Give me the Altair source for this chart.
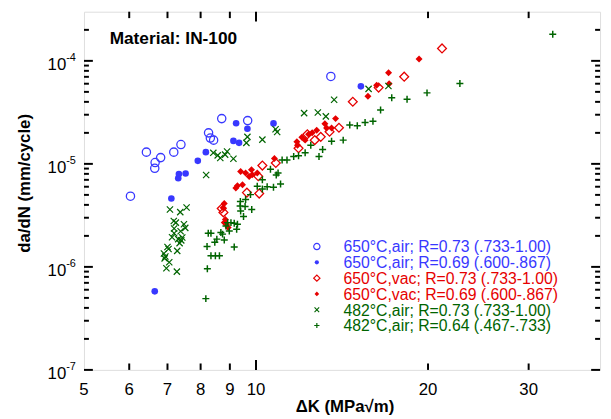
import altair as alt
import pandas as pd

# ---------------- data (ΔK in MPa√m, da/dN in mm/cycle) ----------------
air650_hi_dk = [6.03, 6.43, 6.66, 6.65, 6.81, 7.18, 7.39, 8.26, 8.32, 8.43, 8.71, 9.67, 13.52]
air650_hi_rate = [4.85e-6, 1.30e-5, 1.03e-5, 9.05e-6, 1.15e-5, 1.30e-5, 1.54e-5, 2.0e-5, 1.78e-5,
                  1.70e-5, 2.75e-5, 2.63e-5, 7.06e-5]

air650_lo_dk = [6.65, 7.11, 7.31, 7.33, 7.53, 7.91, 8.17, 9.13, 9.34, 9.23, 9.66, 10.73, 15.26]
air650_lo_rate = [5.79e-7, 4.61e-6, 7.26e-6, 7.96e-6, 8.07e-6, 1.07e-5, 1.30e-5, 1.67e-5, 1.60e-5,
                  2.48e-5, 2.19e-5, 2.47e-5, 5.66e-5]

vac650_hi_dk = [21.16, 18.17, 16.39, 14.77, 13.97, 13.45, 12.98, 12.67, 12.30, 11.87, 10.83, 10.26,
                10.09, 10.13, 9.64, 8.77, 8.71]
vac650_hi_rate = [1.32e-4, 7.02e-5, 5.50e-5, 4.01e-5, 2.24e-5, 2.05e-5, 1.83e-5, 1.70e-5, 1.94e-5,
                  1.42e-5, 1.02e-5, 9.63e-6, 7.58e-6, 5.15e-6, 5.26e-6, 3.38e-6, 3.69e-6]

vac650_lo_dk = [19.29, 17.06, 16.26, 17.10, 15.70, 13.78, 13.20, 13.29, 13.56, 12.77, 12.54, 12.36,
                12.03, 12.19, 11.79, 11.82, 10.77, 9.40, 9.59, 9.73, 9.85, 10.05, 9.82, 9.28, 9.47,
                9.22, 8.80, 8.76, 8.84, 8.88, 8.94, 8.80]
vac650_lo_rate = [1.04e-4, 7.67e-5, 5.81e-5, 6.01e-5, 4.54e-5, 2.75e-5, 2.45e-5, 2.23e-5, 2.23e-5,
                  2.12e-5, 2.01e-5, 1.94e-5, 1.81e-5, 1.70e-5, 1.64e-5, 1.52e-5, 1.13e-5, 8.43e-6,
                  8.14e-6, 7.55e-6, 7.84e-6, 8.14e-6, 8.76e-6, 6.14e-6, 6.27e-6, 5.84e-6, 4.12e-6,
                  3.75e-6, 2.89e-6, 2.59e-6, 2.41e-6, 2.69e-6]

air482_hi_dk = [7.07, 7.37, 7.56, 7.18, 7.24, 7.48, 7.52, 7.38, 7.19, 7.13, 7.43, 7.40, 7.35, 7.00,
                7.03, 7.28, 6.90, 6.94, 6.92, 7.05, 6.97, 7.27, 7.19, 7.31,
                8.18, 8.42, 8.57, 8.66, 8.83, 8.90, 9.13, 9.66, 9.62, 10.26, 10.82, 10.89, 12.14,
                12.83, 13.25, 13.70, 15.74, 17.05]
air482_hi_rate = [3.61e-6, 3.40e-6, 3.77e-6, 2.79e-6, 2.69e-6, 2.59e-6, 2.39e-6, 2.22e-6, 2.36e-6,
                  1.94e-6, 1.93e-6, 1.81e-6, 1.70e-6, 1.56e-6, 1.49e-6, 1.43e-6, 1.35e-6, 1.26e-6,
                  1.21e-6, 1.11e-6, 0.97e-6, 0.90e-6, 2.12e-6, 1.86e-6,
                  7.80e-6, 1.28e-5, 1.21e-5, 1.14e-5, 1.23e-5, 1.32e-5, 1.12e-5, 1.83e-5, 1.60e-5,
                  1.72e-5, 2.17e-5, 2.04e-5, 3.11e-5, 3.15e-5, 2.89e-5, 4.19e-5, 5.35e-5, 5.71e-5]

air482_lo_dk = [33.06, 22.74, 19.92, 18.38, 17.28, 16.52, 16.02, 15.52, 15.04, 14.59, 14.21, 13.56,
                13.08, 12.89, 12.47, 12.19, 11.87, 11.64, 11.33, 11.11, 10.93, 10.85, 10.60, 11.04,
                10.73, 10.46, 10.26, 10.26, 10.05, 9.78, 9.59, 9.39, 9.38, 9.57, 9.83, 9.40, 9.51,
                9.16, 9.04, 8.92, 9.28, 8.98, 8.86, 8.74, 8.68, 9.25, 9.16, 8.80, 8.54, 8.47, 8.34,
                8.25, 8.21, 8.34, 8.49, 8.63, 8.22, 8.17]
air482_lo_rate = [1.81e-4, 6.04e-5, 4.89e-5, 4.24e-5, 4.39e-5, 3.33e-5, 2.59e-5, 2.52e-5, 2.35e-5,
                  2.39e-5, 1.70e-5, 1.66e-5, 1.38e-5, 1.18e-5, 1.52e-5, 1.28e-5, 1.20e-5, 1.18e-5,
                  1.09e-5, 1.09e-5, 8.14e-6, 7.79e-6, 8.89e-6, 6.38e-6, 5.94e-6, 6.01e-6, 7.02e-6,
                  5.71e-6, 6.05e-6, 5.03e-6, 4.51e-6, 4.31e-6, 3.89e-6, 3.86e-6, 3.61e-6, 3.48e-6,
                  3.09e-6, 2.65e-6, 2.69e-6, 2.69e-6, 2.59e-6, 2.23e-6, 2.49e-6, 2.08e-6, 2.16e-6,
                  2.32e-6, 1.56e-6, 1.82e-6, 1.86e-6, 1.73e-6, 2.12e-6, 2.12e-6, 1.58e-6, 1.28e-6,
                  1.28e-6, 1.28e-6, 0.957e-6, 4.92e-7]

legend_labels = ["650°C,air; R=0.73 (.733-1.00)", "650°C,air; R=0.69 (.600-.867)",
                 "650°C,vac; R=0.73 (.733-1.00)", "650°C,vac; R=0.69 (.600-.867)",
                 "482°C,air; R=0.73 (.733-1.00)", "482°C,air; R=0.64 (.467-.733)"]

x_tick_labels = [5, 6, 7, 8, 9, 10, 20, 30]
x_minor_ticks = [6, 7, 8, 9, 20, 30]
x_major_ticks = [10]
y_major_ticks = [1e-7, 1e-6, 1e-5, 1e-4]
y_exponents = ["-7", "-6", "-5", "-4"]
y_minor_ticks = [2e-7, 3e-7, 4e-7, 5e-7, 6e-7, 7e-7, 8e-7, 9e-7,
                 2e-6, 3e-6, 4e-6, 5e-6, 6e-6, 7e-6, 8e-6, 9e-6,
                 2e-5, 3e-5, 4e-5, 5e-5, 6e-5, 7e-5, 8e-5, 9e-5,
                 2e-4]

# ---------------- styling ----------------
BLUE = "#3838ff"
RED = "#e60000"
GREEN = "#006400"
FONT = "Liberation Sans"
W, H = 523, 363

xs = alt.Scale(type="log", domain=[5, 40], nice=False)
ys = alt.Scale(type="log", domain=[1e-7, 3e-4], nice=False)

XPATH = "M-1,-1L1,1M-1,1L1,-1"
PPATH = "M-1,0L1,0M0,-1L0,1"

series = [
    (air650_hi_dk, air650_hi_rate, dict(shape="circle", filled=False, stroke=BLUE, strokeWidth=1.3, size=70), BLUE,
     dict(shape="circle", filled=False, stroke=BLUE, strokeWidth=1.2, size=40)),
    (air650_lo_dk, air650_lo_rate, dict(shape="circle", filled=True, fill=BLUE, size=45), BLUE,
     dict(shape="circle", filled=True, fill=BLUE, size=18)),
    (vac650_hi_dk, vac650_hi_rate, dict(shape="diamond", filled=False, stroke=RED, strokeWidth=1.3, size=80), RED,
     dict(shape="diamond", filled=False, stroke=RED, strokeWidth=1.2, size=40)),
    (vac650_lo_dk, vac650_lo_rate, dict(shape="diamond", filled=True, fill=RED, size=50), RED,
     dict(shape="diamond", filled=True, fill=RED, size=22)),
    (air482_hi_dk, air482_hi_rate, dict(shape=XPATH, filled=False, stroke=GREEN, strokeWidth=1.2, size=40), GREEN,
     dict(shape=XPATH, filled=False, stroke=GREEN, strokeWidth=1.1, size=22)),
    (air482_lo_dk, air482_lo_rate, dict(shape=PPATH, filled=False, stroke=GREEN, strokeWidth=1.5, size=50), GREEN,
     dict(shape=PPATH, filled=False, stroke=GREEN, strokeWidth=1.2, size=28)),
]

layers = []
for dk, rate, style, col, lstyle in series:
    df = pd.DataFrame({"dk": dk, "rate": rate})
    layers.append(
        alt.Chart(df).mark_point(opacity=1, **style).encode(
            x=alt.X("dk:Q", scale=xs, axis=None),
            y=alt.Y("rate:Q", scale=ys, axis=None),
        )
    )

one = pd.DataFrame({"a": [0]})

# legend
for i, (lab, s) in enumerate(zip(legend_labels, series)):
    yrow = 238 + 16 * i
    layers.append(alt.Chart(one).mark_point(opacity=1, **s[4]).encode(
        x=alt.value(236), y=alt.value(yrow)))
    layers.append(alt.Chart(one).mark_text(align="left", baseline="middle", fontSize=16, font=FONT,
                                           color=s[3]).encode(
        x=alt.value(263), y=alt.value(yrow + 1), text=alt.value(lab)))

# ticks (inside)
def yticks(vals, length):
    d = pd.DataFrame({"v": vals})
    left = alt.Chart(d).mark_rule(color="black", strokeWidth=2).encode(
        y=alt.Y("v:Q", scale=ys, axis=None), x=alt.value(0), x2=alt.value(length))
    right = alt.Chart(d).mark_rule(color="black", strokeWidth=2).encode(
        y=alt.Y("v:Q", scale=ys, axis=None), x=alt.value(W), x2=alt.value(W - length))
    return [left, right]

def xticks(vals, length):
    d = pd.DataFrame({"v": vals})
    bottom = alt.Chart(d).mark_rule(color="black", strokeWidth=2).encode(
        x=alt.X("v:Q", scale=xs, axis=None), y=alt.value(H), y2=alt.value(H - length))
    top = alt.Chart(d).mark_rule(color="black", strokeWidth=2).encode(
        x=alt.X("v:Q", scale=xs, axis=None), y=alt.value(0), y2=alt.value(length))
    return [bottom, top]

layers += yticks(y_major_ticks, 9) + yticks(y_minor_ticks, 5)
layers += xticks(x_minor_ticks, 6.5) + xticks(x_major_ticks, 10)

# tick labels
xl = pd.DataFrame({"v": x_tick_labels, "t": [str(v) for v in x_tick_labels]})
layers.append(alt.Chart(xl).mark_text(align="center", baseline="middle", fontSize=17, font=FONT,
                                      color="black").encode(
    x=alt.X("v:Q", scale=xs, axis=None), y=alt.value(H + 20), text="t:N"))

yl = pd.DataFrame({"v": y_major_ticks, "b": ["10"] * 4, "e": y_exponents})
layers.append(alt.Chart(yl).mark_text(align="right", baseline="middle", fontSize=17, font=FONT,
                                      color="black", dy=4).encode(
    y=alt.Y("v:Q", scale=ys, axis=None), x=alt.value(-18), text="b:N"))
layers.append(alt.Chart(yl).mark_text(align="left", baseline="middle", fontSize=11, font=FONT,
                                      color="black", dy=-3).encode(
    y=alt.Y("v:Q", scale=ys, axis=None), x=alt.value(-18), text="e:N"))

# titles
layers.append(alt.Chart(one).mark_text(align="center", baseline="middle", fontSize=17, font=FONT,
                                       fontWeight="bold", color="black").encode(
    x=alt.value(W / 2 + 3), y=alt.value(H + 38), text=alt.value("ΔK (MPa√m)")))
layers.append(alt.Chart(one).mark_text(align="center", baseline="middle", fontSize=17, font=FONT,
                                       fontWeight="bold", color="black", angle=270).encode(
    x=alt.value(-60), y=alt.value(174), text=alt.value("da/dN (mm/cycle)")))
layers.append(alt.Chart(one).mark_text(align="left", baseline="middle", fontSize=17.5, font=FONT,
                                       fontWeight="bold", color="black").encode(
    x=alt.value(26), y=alt.value(28), text=alt.value("Material: IN-100")))

chart = alt.layer(*layers).properties(
    width=W, height=H,
    autosize=alt.AutoSizeParams(type="none"),
    padding={"left": 77, "top": 1, "right": 3, "bottom": 47},
).configure_view(stroke="black", strokeWidth=2).configure(font=FONT)

chart.save("out.html", embed_options={"renderer": "svg", "actions": False})
